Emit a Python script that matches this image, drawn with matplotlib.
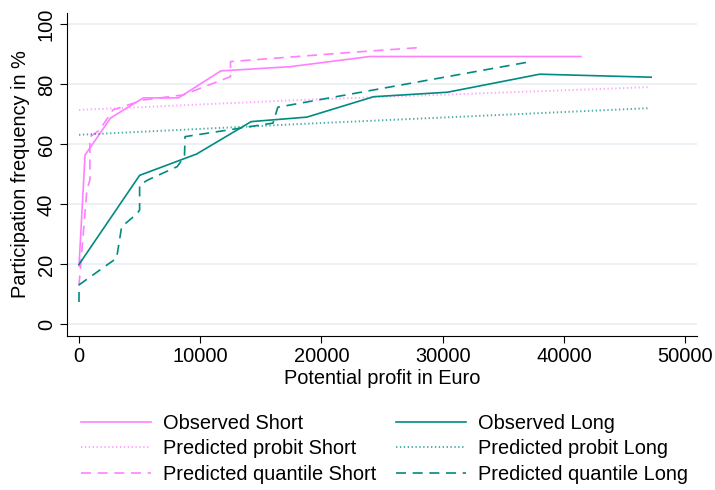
import matplotlib
matplotlib.use("Agg")
import matplotlib.pyplot as plt

plt.rcParams['font.family'] = ['Liberation Sans', 'DejaVu Sans']

# observed / predicted participation
obs_short_x = [0, 500, 900, 2600, 5300, 8200, 11700, 17400, 24000, 41400]
obs_short_y = [19.5, 56.5, 58.8, 68.8, 75.5, 75.5, 84.5, 85.9, 89.3, 89.3]

obs_long_x = [0, 5000, 9700, 14200, 18800, 24300, 30400, 38000, 47200]
obs_long_y = [20, 49.7, 56.8, 67.6, 69.1, 75.9, 77.4, 83.4, 82.4]

probit_short_x = [0, 18200, 47100]
probit_short_y = [71.5, 74.8, 79.1]

probit_long_x = [0, 18200, 47100]
probit_long_y = [63.2, 66.8, 72.1]

quant_short_x = [0, 650, 900, 900, 1700, 2800, 5300, 8600, 12500, 12500, 23200, 28200]
quant_short_y = [13, 44.8, 48.2, 62.5, 64.8, 71.5, 74.8, 76.5, 82.6, 87.6, 90.9, 92.3]

quant_long_x = [0, 0, 3100, 3520, 4810, 5000, 5000, 5700, 8100, 8700, 8750, 16000, 16400, 37000]
quant_long_y = [7.5, 13.2, 22.1, 32.6, 37, 38.2, 46.5, 48.2, 52.6, 56, 62.6, 67.1, 72.4, 87.4]

x_ticks = [0, 10000, 20000, 30000, 40000, 50000]
y_ticks = [0, 20, 40, 60, 80, 100]

pink = '#ff80ff'
teal = '#008b80'
dots = (0, (0.7, 1.3))
dashes = (0, (6, 4))

fig = plt.figure(figsize=(7.15, 4.9), dpi=100)
ax = fig.add_axes([0.0937, 0.3143, 0.8813, 0.6592])

lw = 1.2
h1, = ax.plot(obs_short_x, obs_short_y, color=pink, lw=lw, label='Observed Short')
h2, = ax.plot(probit_short_x, probit_short_y, color=pink, lw=1.4, ls=dots, alpha=0.7,
              label='Predicted probit Short')
h3, = ax.plot(quant_short_x, quant_short_y, color=pink, lw=lw, ls=dashes, label='Predicted quantile Short')
h4, = ax.plot(obs_long_x, obs_long_y, color=teal, lw=lw, label='Observed Long')
h5, = ax.plot(probit_long_x, probit_long_y, color=teal, lw=1.4, ls=dots, alpha=0.7,
              label='Predicted probit Long')
h6, = ax.plot(quant_long_x, quant_long_y, color=teal, lw=lw, ls=dashes, label='Predicted quantile Long')

ax.set_xlim(-990, 50990)
ax.set_ylim(-3.83, 103.8)
ax.set_xticks(x_ticks)
ax.set_yticks(y_ticks)
ax.set_yticklabels([str(v) for v in y_ticks], rotation=90, va='center')
ax.tick_params(labelsize=14.4, length=5, width=0.8, colors='black', pad=3)
ax.grid(axis='y', color='#e8eff2', lw=1.2)
ax.set_axisbelow(True)
for s in ['top', 'right']:
    ax.spines[s].set_visible(False)
for s in ['left', 'bottom']:
    ax.spines[s].set_linewidth(0.8)

ax.set_xlabel('Potential profit in Euro', fontsize=14.4, labelpad=2)
ax.set_ylabel('Participation frequency in %', fontsize=14.4, labelpad=5)

fig.legend(handles=[h1, h2, h3, h4, h5, h6], ncol=2, loc='upper center',
           bbox_to_anchor=(0.538, 0.172), frameon=False, fontsize=14.4,
           handlelength=3.5, handletextpad=0.6, columnspacing=1.0, labelspacing=0.33,
           borderaxespad=0)

fig.savefig('out.png', dpi=100)
